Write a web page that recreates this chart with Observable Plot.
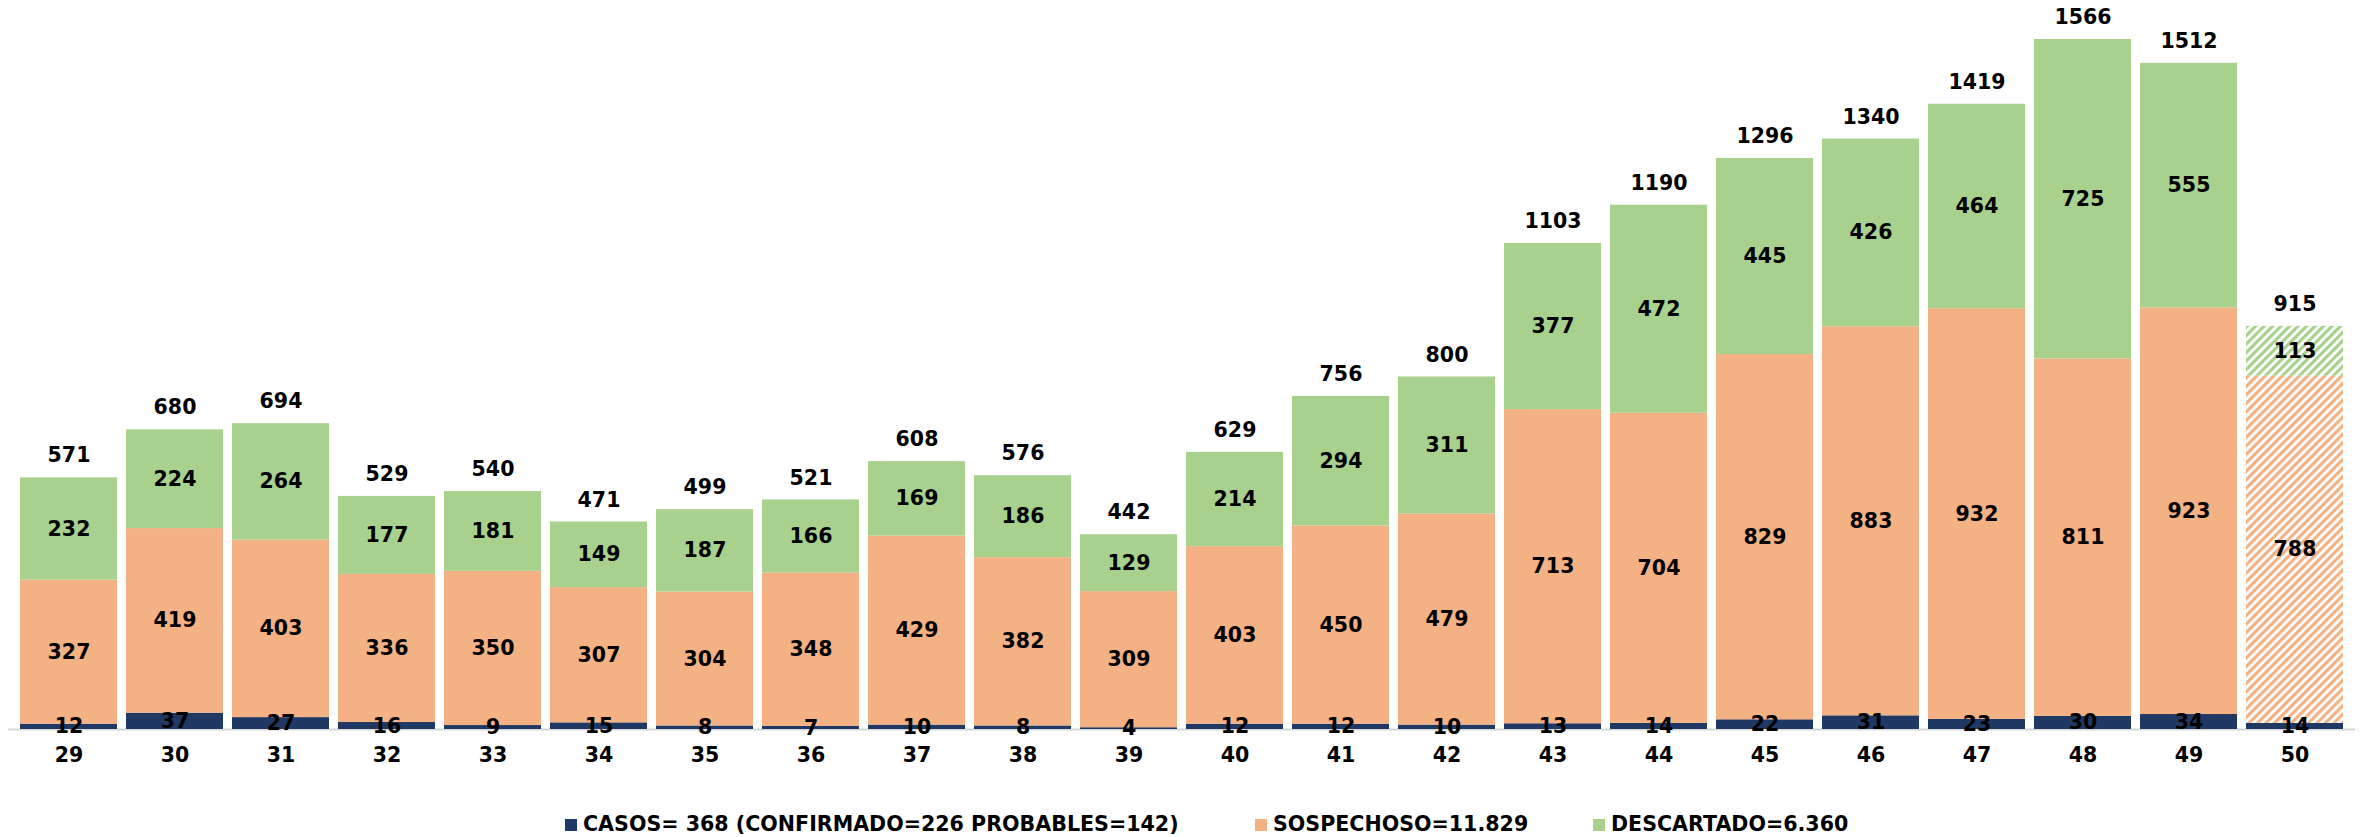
<!DOCTYPE html>
<html>
<head>
<meta charset="utf-8">
<script src="https://cdn.jsdelivr.net/npm/d3@7"></script>
<script src="https://cdn.jsdelivr.net/npm/@observablehq/plot@0.6"></script>
<style>
  html, body { margin: 0; padding: 0; background: #fff; }
  #wrap { position: relative; width: 2362px; height: 837px; overflow: hidden; font-family: "DejaVu Sans", sans-serif; }
  #legend { position: absolute; left: 0; top: 790px; width: 2362px; height: 47px; }
  .item { position: absolute; top: 22px; height: 24px; display: flex; align-items: center; font-weight: bold; font-size: 20.6px; color: #000; white-space: nowrap; }
  .sw { display: inline-block; width: 12px; height: 12px; margin-right: 6px; margin-top: 2px; }
</style>
</head>
<body>
<div id="wrap">
  <div id="chart"></div>
  <div id="legend"></div>
</div>
<script>
const weeks = [29, 30, 31, 32, 33, 34, 35, 36, 37, 38, 39, 40, 41, 42, 43, 44, 45, 46, 47, 48, 49, 50];
const casos = [12, 37, 27, 16, 9, 15, 8, 7, 10, 8, 4, 12, 12, 10, 13, 14, 22, 31, 23, 30, 34, 14];
const sospechoso = [327, 419, 403, 336, 350, 307, 304, 348, 429, 382, 309, 403, 450, 479, 713, 704, 829, 883, 932, 811, 923, 788];
const descartado = [232, 224, 264, 177, 181, 149, 187, 166, 169, 186, 129, 214, 294, 311, 377, 472, 445, 426, 464, 725, 555, 113];
const totals = [571, 680, 694, 529, 540, 471, 499, 521, 608, 576, 442, 629, 756, 800, 1103, 1190, 1296, 1340, 1419, 1566, 1512, 915];
const hatchedWeek = 50;
const seriesNames = ["CASOS", "SOSPECHOSO", "DESCARTADO"];
const seriesColors = ["#203864", "#F4B183", "#A9D18E"];
const legendLabels = ["CASOS= 368 (CONFIRMADO=226 PROBABLES=142)", "SOSPECHOSO=11.829", "DESCARTADO=6.360"];

const seriesValues = [casos, sospechoso, descartado];
const rows = [];
weeks.forEach((w, i) => {
  seriesValues.forEach((arr, j) => {
    rows.push({
      week: String(w),
      series: seriesNames[j],
      value: arr[i],
      key: seriesNames[j] + (w === hatchedWeek ? "_h" : "")
    });
  });
});
const totalRows = weeks.map((w, i) => ({ week: String(w), total: totals[i] }));

const chart = Plot.plot({
  width: 2362,
  height: 790,
  marginLeft: 8,
  marginRight: 7,
  marginTop: 39,
  marginBottom: 61,
  x: { type: "band", domain: weeks.map(String), paddingInner: 0.085, paddingOuter: 0.0375, label: null, tickSize: 0, tickPadding: 18 },
  y: { domain: [0, 1566], axis: null },
  color: {
    type: "ordinal",
    domain: ["CASOS", "SOSPECHOSO", "DESCARTADO", "CASOS_h", "SOSPECHOSO_h", "DESCARTADO_h"],
    range: ["#203864", "#F4B183", "#A9D18E", "#203864", "url(#hatchO)", "url(#hatchG)"]
  },
  style: { fontFamily: "DejaVu Sans, sans-serif", fontSize: "20.5px", fontWeight: "bold", color: "#000", background: "transparent" },
  marks: [
    Plot.ruleY([0], { stroke: "#d6d6d6", strokeWidth: 2 }),
    Plot.barY(rows, { x: "week", y: "value", fill: "key", z: "series" }),
    Plot.text(rows, Plot.stackY({ x: "week", y: "value", z: "series", text: d => String(d.value), fill: "#000", fontSize: 20.5, fontWeight: "bold" })),
    Plot.text(totalRows, { x: "week", y: "total", text: d => String(d.total), dy: -22, fill: "#000", fontSize: 20.5, fontWeight: "bold" })
  ]
});

d3.select(chart).insert("defs", ":first-child").html(`
  <pattern id="hatchO" patternUnits="userSpaceOnUse" width="6" height="6" patternTransform="rotate(45)">
    <rect width="6" height="6" fill="#ffffff"></rect>
    <rect width="3.2" height="6" fill="#F4B183"></rect>
  </pattern>
  <pattern id="hatchG" patternUnits="userSpaceOnUse" width="6" height="6" patternTransform="rotate(45)">
    <rect width="6" height="6" fill="#ffffff"></rect>
    <rect width="3.2" height="6" fill="#A9D18E"></rect>
  </pattern>`);

document.getElementById("chart").appendChild(chart);

const legendLefts = [565, 1255, 1593];
const legend = document.getElementById("legend");
legendLabels.forEach((lab, i) => {
  const it = document.createElement("div");
  it.className = "item";
  it.style.left = legendLefts[i] + "px";
  it.innerHTML = `<span class="sw" style="background:${seriesColors[i]}"></span><span>${lab}</span>`;
  legend.appendChild(it);
});
</script>
</body>
</html>
